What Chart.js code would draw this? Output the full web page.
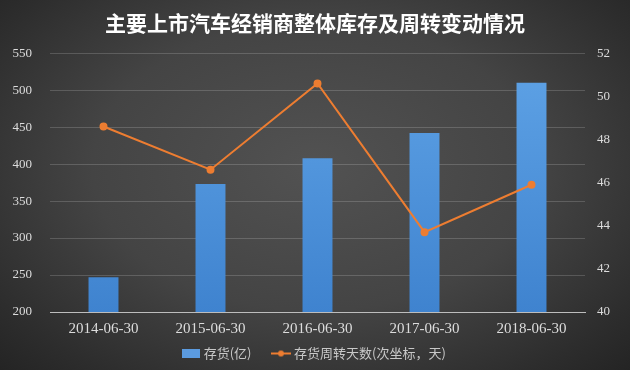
<!DOCTYPE html>
<html>
<head>
<meta charset="utf-8">
<script src="https://cdn.jsdelivr.net/npm/chart.js@4"></script>
<style>
  html, body { margin: 0; padding: 0; }
  body {
    width: 630px; height: 370px; overflow: hidden;
    background: radial-gradient(ellipse at 50% 45%, #525252 0%, #444444 50%, #2d2d2d 85%, #242424 100%);
  }
  #wrap { width: 630px; height: 370px; }
</style>
</head>
<body>
<div id="wrap"><canvas id="chart" width="630" height="370"></canvas></div>
<script>
let categories = ['2014-06-30', '2015-06-30', '2016-06-30', '2017-06-30', '2018-06-30'];
let inventory = [247, 373, 408, 442, 510];
let turnoverDays = [48.6, 46.6, 50.6, 43.7, 45.9];
let leftTicks = [200, 250, 300, 350, 400, 450, 500, 550];
let rightTicks = [40, 42, 44, 46, 48, 50, 52];

// little legend icon for the line series: line with a dot
function lineIcon() {
  let c = document.createElement('canvas');
  c.width = 20; c.height = 8;
  let g = c.getContext('2d');
  g.strokeStyle = '#ed7d31';
  g.lineWidth = 2;
  g.beginPath(); g.moveTo(0, 4); g.lineTo(20, 4); g.stroke();
  g.fillStyle = '#ed7d31';
  g.beginPath(); g.arc(10, 4, 3, 0, Math.PI * 2); g.fill();
  return c;
}
function boxIcon() {
  let c = document.createElement('canvas');
  c.width = 18; c.height = 9;
  let g = c.getContext('2d');
  g.fillStyle = '#5b9be0';
  g.fillRect(0, 0, 18, 9);
  return c;
}

function barFill(context) {
  let chart = context.chart;
  let area = chart.chartArea;
  if (!area) return '#4a8fd8';
  let grad = chart.ctx.createLinearGradient(0, area.top, 0, area.bottom);
  grad.addColorStop(0, '#5fa3e6');
  grad.addColorStop(1, '#3f83cf');
  return grad;
}

let ctx = document.getElementById('chart').getContext('2d');

let chart = new Chart(ctx, {
  data: {
    labels: categories,
    datasets: [{
      type: 'line',
      label: '存货周转天数(次坐标，天)',
      data: turnoverDays,
      yAxisID: 'y1',
      borderColor: '#ed7d31',
      backgroundColor: '#ed7d31',
      borderWidth: 2,
      pointRadius: 3,
      pointHoverRadius: 3,
      tension: 0,
      order: 0
    }, {
      type: 'bar',
      label: '存货(亿)',
      data: inventory,
      yAxisID: 'y',
      backgroundColor: barFill,
      barPercentage: 0.28,
      categoryPercentage: 1,
      order: 1
    }]
  },
  options: {
    animation: false,
    responsive: false,
    layout: { padding: 0 },
    plugins: {
      title: {
        display: true,
        text: '主要上市汽车经销商整体库存及周转变动情况',
        color: '#ffffff',
        font: { family: '"Noto Sans CJK SC"', size: 21, weight: 'bold' },
        padding: { top: 10, bottom: 18 }
      },
      legend: {
        position: 'bottom',
        reverse: true,
        labels: {
          color: '#c8c8c8',
          font: { family: '"Noto Sans CJK SC"', size: 13 },
          usePointStyle: true,
          padding: 10,
          generateLabels: function (chart) {
            let items = Chart.defaults.plugins.legend.labels.generateLabels(chart);
            items.forEach(it => {
              it.pointStyle = it.datasetIndex === 0 ? lineIcon() : boxIcon();
              it.fontColor = '#c8c8c8';
              // a bit more room between the two legend entries
              if (it.datasetIndex === 1) it.text = it.text + '\u3000';
            });
            return items;
          }
        }
      },
      tooltip: { enabled: false }
    },
    scales: {
      x: {
        grid: { display: false, drawTicks: false },
        border: { color: '#bdbdbd', width: 1 },
        ticks: {
          color: '#dcdcdc',
          font: { family: '"Liberation Serif"', size: 15 },
          padding: 8,
          maxRotation: 0
        },
        afterFit: s => { s.height = 25; }
      },
      y: {
        position: 'left',
        min: 200,
        max: 550,
        afterBuildTicks: s => { s.ticks = leftTicks.map(v => ({ value: v })); },
        grid: { color: 'rgba(255,255,255,0.17)', drawTicks: false },
        border: { display: false },
        ticks: {
          color: '#dcdcdc',
          font: { family: '"Liberation Serif"', size: 13 },
          padding: 18
        },
        afterFit: s => { s.width = 50; }
      },
      y1: {
        position: 'right',
        min: 40,
        max: 52,
        afterBuildTicks: s => { s.ticks = rightTicks.map(v => ({ value: v })); },
        grid: { display: false },
        border: { display: false },
        ticks: {
          color: '#dcdcdc',
          font: { family: '"Liberation Serif"', size: 13 },
          padding: 4
        },
        afterFit: s => { s.width = 45; }
      }
    }
  }
});
</script>
</body>
</html>
